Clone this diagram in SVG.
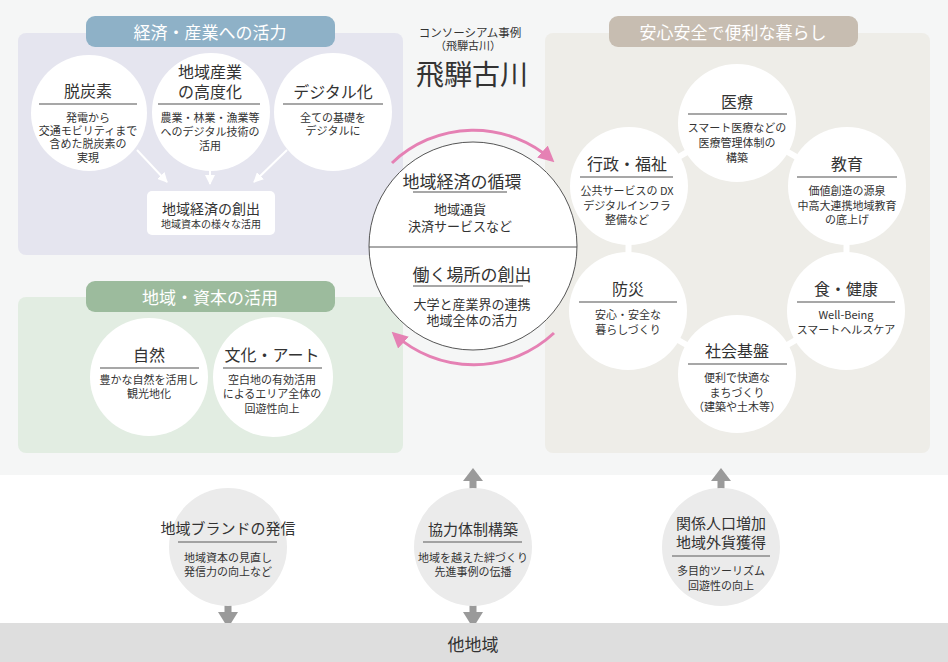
<svg xmlns="http://www.w3.org/2000/svg" width="948" height="662" viewBox="0 0 948 662">
<defs>
<style>
text{font-family:"Noto Sans CJK JP","Noto Sans",sans-serif;fill:#333;text-anchor:middle;dominant-baseline:central}
.pillt{fill:#fff;font-size:17px}
.h{font-size:16px}
.b{font-size:11px}
.cb{font-size:13px}
.wc{fill:#fff}
.gc{fill:#ebebeb}
.ul{stroke:#8a8a8a;stroke-width:1.5}
.warr{stroke:#fff;stroke-width:2;fill:none}
.pink{stroke:#e581b4;stroke-width:3;fill:none}
.ring{stroke:#fff;stroke-width:6;fill:none}
.garr{fill:#9a9a9a}
</style>
<marker id="wh" viewBox="0 0 10 10" refX="9" refY="5" markerWidth="10" markerHeight="10" markerUnits="userSpaceOnUse" orient="auto"><path d="M0,0 L10,5 L0,10 z" fill="#fff"/></marker>
<marker id="ph" viewBox="0 0 10 10" refX="8" refY="5" markerWidth="16" markerHeight="16" markerUnits="userSpaceOnUse" orient="auto"><path d="M0,0 L10,5 L0,10 z" fill="#e581b4"/></marker>
</defs>

<rect x="0" y="0" width="948" height="475" fill="#f5f6f6"/>
<rect x="0" y="475" width="948" height="148" fill="#fff"/>

<!-- panels -->
<g id="panel-economy">
<rect x="18" y="33" width="385" height="222" rx="8" fill="#e5e5ef"/>
<rect x="86" y="16" width="249" height="31" rx="9" fill="#8eb1c7"/>
<text class="pillt" x="210" y="31">経済・産業への活力</text>
</g>
<g id="panel-resources">
<rect x="18" y="297" width="385" height="156" rx="8" fill="#e2ede2"/>
<rect x="86" y="281" width="249" height="31" rx="9" fill="#9cbb9d"/>
<text class="pillt" x="210" y="296">地域・資本の活用</text>
</g>
<g id="panel-life">
<rect x="545" y="33" width="385" height="420" rx="8" fill="#eeede8"/>
<rect x="609" y="16" width="249" height="31" rx="9" fill="#c7bdb1"/>
<text class="pillt" x="733" y="31">安心安全で便利な暮らし</text>
</g>

<!-- connectors -->
<g id="connectors">
<polygon class="ring" points="737,123 847,186 846,311 737,374 628,311 629,186"/>
<line class="warr" x1="137" y1="150" x2="167" y2="182" marker-end="url(#wh)"/>
<line class="warr" x1="210" y1="166" x2="210" y2="184" marker-end="url(#wh)"/>
<line class="warr" x1="287" y1="150" x2="254" y2="182" marker-end="url(#wh)"/>
<path class="pink" d="M392,163 A118,118 0 0 1 552,160" marker-end="url(#ph)"/>
<path class="pink" d="M554,333 A118,118 0 0 1 394,334" marker-end="url(#ph)"/>
<path class="garr" d="M473,468 L483,481 L476.5,481 L476.5,489 L469.5,489 L469.5,481 L463,481 z"/>
<path class="garr" d="M721,468 L731,481 L724.5,481 L724.5,489 L717.5,489 L717.5,481 L711,481 z"/>
<path class="garr" d="M228,628 L218,612 L224.5,612 L224.5,605 L231.5,605 L231.5,612 L238,612 z"/>
<path class="garr" d="M473,628 L463,612 L469.5,612 L469.5,605 L476.5,605 L476.5,612 L483,612 z"/>
</g>

<!-- header -->
<g id="header">
<text x="470" y="32" style="font-size:11.5px">コンソーシアム事例</text>
<text x="468" y="45" style="font-size:11px">（飛騨古川）</text>
<text x="472" y="73" style="font-size:28px">飛騨古川</text>
</g>

<!-- economy nodes -->
<g id="node-decarbon">
<circle class="wc" cx="89" cy="113" r="58"/>
<text class="h" x="88" y="90">脱炭素</text>
<line class="ul" x1="39" y1="104" x2="137" y2="104"/>
<text class="b" x="88" y="117">発電から</text>
<text class="b" x="88" y="130">交通モビリティまで</text>
<text class="b" x="88" y="143">含めた脱炭素の</text>
<text class="b" x="88" y="157">実現</text>
</g>
<g id="node-industry">
<circle class="wc" cx="211" cy="112" r="59"/>
<text class="h" x="210" y="71">地域産業</text>
<text class="h" x="210" y="91">の高度化</text>
<line class="ul" x1="158" y1="104" x2="260" y2="104"/>
<text class="b" x="210" y="117">農業・林業・漁業等</text>
<text class="b" x="210" y="131">へのデジタル技術の</text>
<text class="b" x="210" y="145">活用</text>
</g>
<g id="node-digital">
<circle class="wc" cx="333" cy="112" r="59"/>
<text class="h" x="333" y="91">デジタル化</text>
<line class="ul" x1="283" y1="104" x2="383" y2="104"/>
<text class="b" x="333" y="117">全ての基礎を</text>
<text class="b" x="333" y="130">デジタルに</text>
</g>
<g id="node-creation">
<rect x="147" y="191" width="128" height="44" rx="5" fill="#fff"/>
<text x="211" y="208" style="font-size:14px">地域経済の創出</text>
<text x="211" y="223" style="font-size:10px">地域資本の様々な活用</text>
</g>

<!-- resources nodes -->
<g id="node-nature">
<circle class="wc" cx="149" cy="377" r="59"/>
<text class="h" x="149" y="354">自然</text>
<line class="ul" x1="100" y1="368" x2="199" y2="368"/>
<text class="b" x="149" y="379">豊かな自然を活用し</text>
<text class="b" x="149" y="393">観光地化</text>
</g>
<g id="node-culture">
<circle class="wc" cx="273" cy="377" r="60"/>
<text class="h" x="272" y="354">文化・アート</text>
<line class="ul" x1="223" y1="368" x2="322" y2="368"/>
<text class="b" x="272" y="379">空白地の有効活用</text>
<text class="b" x="272" y="393">によるエリア全体の</text>
<text class="b" x="272" y="408">回遊性向上</text>
</g>

<!-- center -->
<g id="node-center">
<circle cx="473" cy="246" r="104" fill="#fff" stroke="#555" stroke-width="1"/>
<line x1="369" y1="247" x2="577" y2="247" stroke="#555" stroke-width="1"/>
<text x="462" y="180" style="font-size:17px">地域経済の循環</text>
<line class="ul" x1="413" y1="192" x2="507" y2="192"/>
<text class="cb" x="460" y="208">地域通貨</text>
<text class="cb" x="460" y="225">決済サービスなど</text>
<text x="472" y="273" style="font-size:17px">働く場所の創出</text>
<line class="ul" x1="413" y1="286" x2="523" y2="286"/>
<text class="cb" x="472" y="303">大学と産業界の連携</text>
<text class="cb" x="472" y="319">地域全体の活力</text>
</g>

<!-- life nodes -->
<g id="node-medical">
<circle class="wc" cx="737" cy="123" r="59"/>
<text class="h" x="737" y="101">医療</text>
<line class="ul" x1="688" y1="114" x2="787" y2="114"/>
<text class="b" x="737" y="127">スマート医療などの</text>
<text class="b" x="737" y="142">医療管理体制の</text>
<text class="b" x="737" y="157">構築</text>
</g>
<g id="node-admin">
<circle class="wc" cx="629" cy="186" r="59"/>
<text class="h" x="627" y="163">行政・福祉</text>
<line class="ul" x1="580" y1="177" x2="673" y2="177"/>
<text class="b" x="627" y="190">公共サービスの DX</text>
<text class="b" x="627" y="205">デジタルインフラ</text>
<text class="b" x="627" y="219">整備など</text>
</g>
<g id="node-education">
<circle class="wc" cx="847" cy="186" r="59"/>
<text class="h" x="847" y="163">教育</text>
<line class="ul" x1="797" y1="177" x2="897" y2="177"/>
<text class="b" x="847" y="190">価値創造の源泉</text>
<text class="b" x="847" y="205">中高大連携地域教育</text>
<text class="b" x="847" y="219">の底上げ</text>
</g>
<g id="node-disaster">
<circle class="wc" cx="628" cy="311" r="59"/>
<text class="h" x="628" y="288">防災</text>
<line class="ul" x1="579" y1="302" x2="677" y2="302"/>
<text class="b" x="628" y="314">安心・安全な</text>
<text class="b" x="628" y="329">暮らしづくり</text>
</g>
<g id="node-health">
<circle class="wc" cx="846" cy="311" r="59"/>
<text class="h" x="846" y="288">食・健康</text>
<line class="ul" x1="797" y1="302" x2="895" y2="302"/>
<text class="b" x="846" y="314">Well-Being</text>
<text class="b" x="846" y="329">スマートヘルスケア</text>
</g>
<g id="node-infra">
<circle class="wc" cx="737" cy="374" r="59"/>
<text class="h" x="737" y="350">社会基盤</text>
<line class="ul" x1="688" y1="364" x2="787" y2="364"/>
<text class="b" x="737" y="377">便利で快適な</text>
<text class="b" x="737" y="392">まちづくり</text>
<text class="b" x="737" y="406">（建築や土木等）</text>
</g>

<!-- bottom nodes -->
<g id="node-brand">
<circle class="gc" cx="228" cy="547" r="59"/>
<text x="228" y="527" style="font-size:15px">地域ブランドの発信</text>
<line class="ul" x1="178" y1="542" x2="277" y2="542"/>
<text class="b" x="228" y="557">地域資本の見直し</text>
<text class="b" x="228" y="571">発信力の向上など</text>
</g>
<g id="node-cooperation">
<circle class="gc" cx="473" cy="547" r="59"/>
<text x="473" y="528" style="font-size:15px">協力体制構築</text>
<line class="ul" x1="423" y1="542" x2="522" y2="542"/>
<text class="b" x="473" y="557">地域を越えた絆づくり</text>
<text class="b" x="473" y="571">先進事例の伝播</text>
</g>
<g id="node-population">
<circle class="gc" cx="721" cy="547" r="59"/>
<text x="721" y="522" style="font-size:15px">関係人口増加</text>
<text x="721" y="541" style="font-size:15px">地域外貨獲得</text>
<line class="ul" x1="672" y1="556" x2="770" y2="556"/>
<text class="b" x="721" y="570">多目的ツーリズム</text>
<text class="b" x="721" y="585">回遊性の向上</text>
</g>

<g id="node-other">
<rect x="0" y="623" width="948" height="39" fill="#dedede"/>
<text x="473" y="643" style="font-size:17px">他地域</text>
</g>
</svg>
